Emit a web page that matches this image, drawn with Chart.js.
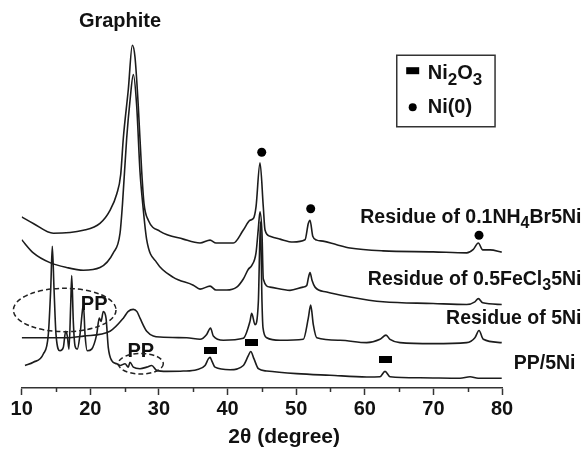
<!DOCTYPE html>
<html>
<head>
<meta charset="utf-8">
<script src="https://cdn.jsdelivr.net/npm/chart.js@4.4.1/dist/chart.umd.min.js"></script>
<style>
html,body{margin:0;padding:0;background:#fff;}
canvas{display:block;}
</style>
</head>
<body>
<canvas id="c" width="582" height="449"></canvas>
<script>
// ---------- data (2θ in degrees, intensity in arbitrary stacked units) ----------
const majorTicks = [10, 20, 30, 40, 50, 60, 70, 80];
const minorTicks = [15, 25, 35, 45, 55, 65, 75];

const seriesLabels = ['Residue of 0.1NH_4Br5Ni', 'Residue of 0.5FeCl_35Ni', 'Residue of 5Ni', 'PP/5Ni'];

const nh4brX = [10.00,11.69,14.61,18.98,21.41,22.87,23.85,24.43,24.81,25.54,26.12,26.51,26.99,27.49,27.83,28.45,30.16,33.55,35.99,37.45,38.32,40.84,42.30,43.27,43.76,44.15,44.73,45.21,45.46,46.19,47.65,49.54,51.29,51.77,52.02,52.42,53.00,53.91,55.91,57.85,62.66,69.95,74.86,75.78,76.55,77.19,78.26,79.96];
const nh4brY = [174.7,168,158,161,168,181.3,198,218,255,305,350,338,288,221,188,171.3,160,152,148,151,148,148,161.3,171.3,173,185,230,185,161.3,155,152,149,151.3,168,171.3,155,151,150,146.3,143,140,139,138,141.3,148,141,141,138.7];

const fecl3X = [10.00,11.69,14.12,16.56,18.98,21.41,23.35,24.33,24.69,25.30,25.78,26.27,26.76,27.24,27.64,28.22,29.68,32.10,35.01,35.99,37.45,38.32,39.88,41.34,42.30,43.03,43.52,44.15,44.49,44.73,45.02,45.21,46.19,49.10,51.00,51.54,51.80,52.02,52.31,52.75,54.45,57.85,62.66,69.95,74.86,76.05,76.55,77.19,79.96];
const fecl3Y = [151.3,138,128,123,120.3,123,138,158,188,255,293,320,288,221,188,151.3,128,113,105,101,104,100,100,103,111.3,121.3,125,138,163,180,158,111.3,103,99.7,103,104.7,113,118,110,103,98,93,88,86.3,85.3,88,91.3,87,85.3];

const res5NiX = [10.00,16.56,18.98,22.87,24.81,25.49,26.27,26.80,27.24,28.22,30.16,34.05,35.99,36.96,37.52,37.93,39.38,42.30,43.27,43.52,44.00,44.49,44.80,45.02,45.17,45.71,47.65,51.04,51.77,52.12,52.50,53.00,56.39,60.28,62.22,63.10,63.68,65.14,69.95,74.86,76.05,76.65,77.28,79.96];
const res5NiY = [51.3,51.3,53,58,71.3,78,80.3,78,71.3,58,52,51.3,49.7,54.7,61.3,53,48.7,50.7,68,76.3,64.7,88,170,88,61.3,51.3,48.7,49.7,71.3,84.7,64.7,51.3,48.7,46.3,49.7,54,49.7,46.3,45.3,46.3,51.3,58.7,49.7,46.3];

const pp5NiX = [10.48,11.69,13.15,13.88,14.23,14.46,14.71,15.00,15.58,16.06,16.41,16.65,16.89,17.14,17.29,17.52,17.77,18.10,18.50,18.89,19.01,19.23,19.56,20.20,20.93,21.31,21.56,21.89,22.29,22.62,23.12,23.85,24.33,25.06,25.54,25.78,26.27,27.24,28.22,28.95,29.68,31.13,33.55,35.51,36.72,37.20,37.45,37.69,38.17,40.36,42.30,43.03,43.38,43.86,44.49,45.71,50.08,54.93,60.28,62.22,62.95,63.68,68.06,73.89,75.35,76.52,79.96];
const pp5NiY = [23,26.3,34.7,54.7,101.3,144.7,101.3,54.7,38,41.3,58,53,39.7,84.7,114.7,68,43,39.7,54.7,81.3,84,54.7,38,39.7,54.7,71.3,68,78,71.3,41.3,28,24.7,23,24.7,21.3,26.3,21.3,19.7,21.3,23,18,17,17.3,18.7,23,29.7,31.3,28,21.3,18.7,23,33,37.3,29.7,19.7,17.3,14.7,13,11.3,11.5,17,11.5,10.5,10,11.5,10,10];

// phase markers
const ni2o3X = [37.45, 43.52, 62.95];
const ni2o3Y = [38.7, 46.3, 28.7];
const ni0X = [44.98, 52.12, 76.65];
const ni0Y = [240.7, 183, 156];

// ---------- styling / layout ----------
const FONT = '"Liberation Sans", Arial, Helvetica, sans-serif';
const INK = '#1c1c1c';

function pts(xs, ys) { return xs.map((x, i) => ({ x: x, y: ys[i] })); }

function parseRich(s) {
  const parts = [];
  let buf = '';
  for (let i = 0; i < s.length; i++) {
    if (s[i] === '_' && i + 1 < s.length) {
      if (buf) { parts.push({ t: buf, sub: false }); buf = ''; }
      parts.push({ t: s[i + 1], sub: true });
      i++;
    } else buf += s[i];
  }
  if (buf) parts.push({ t: buf, sub: false });
  return parts;
}

function drawRich(ctx, str, x, y, align, size, subSize, subDy) {
  const parts = parseRich(str);
  let w = 0;
  parts.forEach(p => { ctx.font = 'bold ' + (p.sub ? subSize : size) + 'px ' + FONT; w += ctx.measureText(p.t).width; });
  let cx = align === 'right' ? x - w : (align === 'center' ? x - w / 2 : x);
  ctx.textAlign = 'left';
  ctx.textBaseline = 'alphabetic';
  ctx.fillStyle = '#111';
  parts.forEach(p => {
    ctx.font = 'bold ' + (p.sub ? subSize : size) + 'px ' + FONT;
    ctx.fillText(p.t, cx, y + (p.sub ? subDy : 0));
    cx += ctx.measureText(p.t).width;
  });
}

const rectMark = document.createElement('canvas');
rectMark.width = 13; rectMark.height = 7;
(function () { const g = rectMark.getContext('2d'); g.fillStyle = '#000'; g.fillRect(0, 0, 13, 7); })();

const labelPos = [
  { x: 581.5, y: 223.3 },
  { x: 581.5, y: 285.2 },
  { x: 581.5, y: 323.8 },
  { x: 575.5, y: 369.2 }
];

const annotPlugin = {
  id: 'annot',
  afterDraw(chart) {
    const ctx = chart.ctx;
    const xs = chart.scales.x;
    const base = chart.chartArea.bottom;
    ctx.save();
    // minor ticks
    ctx.strokeStyle = '#333';
    ctx.lineWidth = 1.5;
    minorTicks.forEach(v => {
      const px = Math.round(xs.getPixelForValue(v)) + 0.5;
      ctx.beginPath(); ctx.moveTo(px, base); ctx.lineTo(px, base + 4); ctx.stroke();
    });
    // axis title
    drawRich(ctx, '2θ (degree)', 340, 443, 'right', 21, 17, 5);
    // graphite label
    drawRich(ctx, 'Graphite', 120, 26.7, 'center', 20, 16, 5);
    // PP labels
    drawRich(ctx, 'PP', 94.2, 310, 'center', 20, 16, 5);
    drawRich(ctx, 'PP', 140.8, 356.7, 'center', 20, 16, 5);
    // dashed ellipses
    ctx.strokeStyle = '#222';
    ctx.lineWidth = 1.5;
    ctx.setLineDash([5, 3]);
    ctx.beginPath(); ctx.ellipse(64.7, 310, 51.3, 21.7, 0, 0, Math.PI * 2); ctx.stroke();
    ctx.beginPath(); ctx.ellipse(140.8, 363.7, 22.5, 10.3, 0, 0, Math.PI * 2); ctx.stroke();
    ctx.setLineDash([]);
    // series labels
    seriesLabels.forEach((s, i) => drawRich(ctx, s, labelPos[i].x, labelPos[i].y, 'right', 19.5, 16, 5));
    // legend box
    ctx.strokeStyle = '#333';
    ctx.lineWidth = 1.5;
    ctx.strokeRect(396.75, 55.25, 98.3, 71.5);
    ctx.fillStyle = '#000';
    ctx.fillRect(406.2, 67.2, 13, 7);
    ctx.beginPath(); ctx.arc(412.7, 107.3, 4, 0, Math.PI * 2); ctx.fill();
    drawRich(ctx, 'Ni_2O_3', 427.7, 79, 'left', 20, 17, 6);
    drawRich(ctx, 'Ni(0)', 427.7, 113, 'left', 20, 17, 6);
    ctx.restore();
  }
};

const lineStyle = { borderColor: INK, borderWidth: 1.6, pointRadius: 0, fill: false, cubicInterpolationMode: 'monotone' };

new Chart(document.getElementById('c'), {
  type: 'line',
  data: {
    datasets: [
      Object.assign({ label: seriesLabels[0], data: pts(nh4brX, nh4brY) }, lineStyle),
      Object.assign({ label: seriesLabels[1], data: pts(fecl3X, fecl3Y) }, lineStyle),
      Object.assign({ label: seriesLabels[2], data: pts(res5NiX, res5NiY) }, lineStyle),
      Object.assign({ label: seriesLabels[3], data: pts(pp5NiX, pp5NiY) }, lineStyle),
      { label: 'Ni2O3', data: pts(ni2o3X, ni2o3Y), showLine: false, pointStyle: rectMark, pointRadius: 7, clip: false },
      { label: 'Ni(0)', data: pts(ni0X, ni0Y), showLine: false, pointStyle: 'circle', pointRadius: 4.5, backgroundColor: '#000', borderColor: '#000', borderWidth: 0, clip: false }
    ]
  },
  options: {
    responsive: false,
    animation: false,
    devicePixelRatio: 1,
    layout: { padding: { left: 21.7, right: 80, top: 0, bottom: 0 } },
    plugins: { legend: { display: false }, tooltip: { enabled: false } },
    scales: {
      x: {
        type: 'linear',
        min: 10, max: 80,
        afterBuildTicks: s => { s.ticks = majorTicks.map(v => ({ value: v })); },
        afterFit: s => { s.height = 61; },
        ticks: { autoSkip: false, maxRotation: 0, padding: 2, color: '#111', font: { family: FONT, size: 20, weight: 'bold' } },
        grid: { drawOnChartArea: false, drawTicks: true, tickLength: 7, tickColor: '#333', tickWidth: 1.5 },
        border: { display: true, color: '#333', width: 1.6 }
      },
      y: { display: false, min: 0, max: 388 }
    }
  },
  plugins: [annotPlugin]
});
</script>
</body>
</html>
